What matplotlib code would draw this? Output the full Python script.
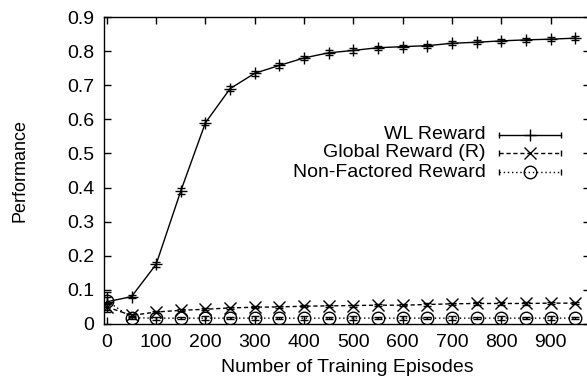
import matplotlib
matplotlib.use("Agg")
import matplotlib.pyplot as plt

plt.rcParams['font.family'] = ['Liberation Sans', 'DejaVu Sans']
plt.rcParams['font.size'] = 14

episodes = [0, 50, 100, 150, 200, 250, 300, 350, 400, 450,
            500, 550, 600, 650, 700, 750, 800, 850, 900, 950]

wl_reward = [0.065, 0.08, 0.175, 0.39, 0.59, 0.69, 0.735, 0.758, 0.78, 0.795,
             0.802, 0.81, 0.813, 0.816, 0.823, 0.826, 0.83, 0.833, 0.835, 0.838]
wl_err = [0.03, 0.005, 0.007, 0.01, 0.008, 0.008, 0.008, 0.008, 0.007, 0.007,
          0.007, 0.006, 0.006, 0.006, 0.006, 0.006, 0.006, 0.006, 0.006, 0.006]

global_reward = [0.05, 0.025, 0.035, 0.04, 0.043, 0.047, 0.049, 0.05, 0.052, 0.053,
                 0.054, 0.055, 0.055, 0.057, 0.059, 0.06, 0.06, 0.06, 0.061, 0.061]
global_err = [0.01, 0.003, 0.003, 0.003, 0.003, 0.003, 0.003, 0.003, 0.003, 0.003,
              0.003, 0.003, 0.003, 0.003, 0.003, 0.003, 0.003, 0.003, 0.003, 0.003]

nonfact_reward = [0.068, 0.018, 0.017, 0.017, 0.017, 0.017, 0.017, 0.017, 0.017, 0.017,
                  0.017, 0.017, 0.017, 0.017, 0.017, 0.017, 0.017, 0.017, 0.017, 0.017]
nonfact_err = [0.01, 0.003, 0.004, 0.003, 0.005, 0.003, 0.005, 0.003, 0.005, 0.003,
               0.005, 0.003, 0.005, 0.003, 0.005, 0.003, 0.005, 0.003, 0.005, 0.003]

labels = ["WL Reward", "Global Reward (R)", "Non-Factored Reward"]
styles = [dict(ls='-', marker='+', ms=8, mfc='black'),
          dict(ls=(0, (3, 2)), marker='x', ms=8, mfc='black'),
          dict(ls=(0, (1, 2)), marker='o', ms=9, mfc='none')]
series = [(wl_reward, wl_err), (global_reward, global_err), (nonfact_reward, nonfact_err)]

fig = plt.figure(figsize=(5.87, 3.78), dpi=100)
ax = fig.add_axes([0.177, 0.143, 0.828, 0.812])

for (vals, errs), st in zip(series, styles):
    ax.errorbar(episodes, vals, yerr=errs, color='black', lw=1.0, mew=1.0,
                capsize=3, elinewidth=1.0, capthick=1.0, **st)

ax.set_xlim(-6, 980)
ax.set_ylim(0, 0.9)
ax.set_xticks(range(0, 1000, 100))
ax.set_yticks([0, 0.1, 0.2, 0.3, 0.4, 0.5, 0.6, 0.7, 0.8, 0.9])
ax.set_yticklabels(["0", "0.1", "0.2", "0.3", "0.4", "0.5", "0.6", "0.7", "0.8", "0.9"])
ax.tick_params(direction='in', top=True, right=True, length=5, width=1.0, pad=7, labelsize=14)
for s in ax.spines.values():
    s.set_linewidth(1.0)

ax.set_xlabel("Number of Training Episodes", labelpad=6)
ax.set_ylabel("Performance", labelpad=28, fontsize=13)

# gnuplot style key: right aligned text, then the line sample with end caps
key_y = [0.616, 0.557, 0.495]
for lab, st, ky in zip(labels, styles, key_y):
    ax.text(0.786, ky, lab, transform=ax.transAxes, ha='right', va='center', fontsize=14)
    ax.plot([0.812, 0.940], [ky, ky], transform=ax.transAxes, color='black', lw=1.0,
            ls=st['ls'], clip_on=False)
    ax.plot([0.812, 0.940], [ky, ky], transform=ax.transAxes, color='black', ls='none',
            marker='|', ms=5, mew=1.0, clip_on=False)
    ax.plot([0.876], [ky], transform=ax.transAxes, color='black', ls='none',
            marker=st['marker'], ms=st['ms'], mfc=st['mfc'], mew=1.0, clip_on=False)

fig.savefig("out.png", dpi=100)
